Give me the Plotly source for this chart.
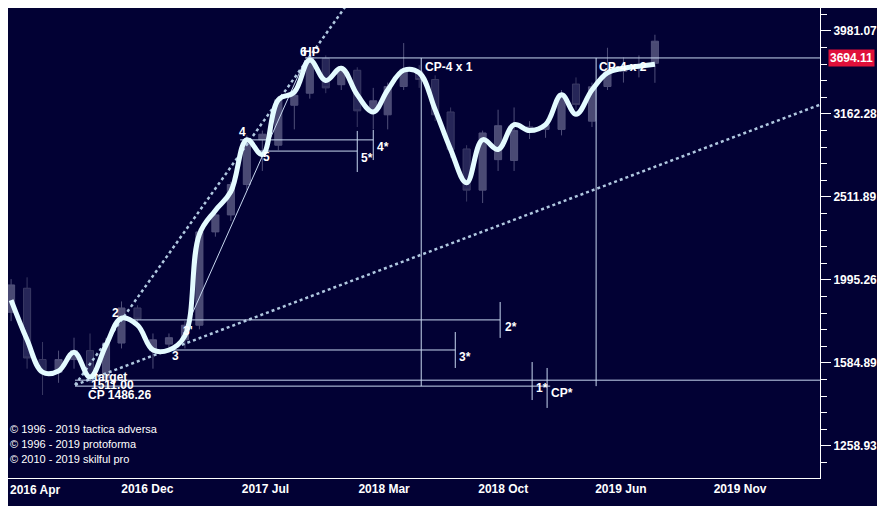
import numpy as np
import pandas as pd
import plotly.graph_objects as go

# monthly candles, Mar 2016 .. Aug 2019
months = pd.date_range('2016-03-01', periods=42, freq='MS') + pd.Timedelta(days=4)
opens = [1824, 1950, 1600, 1545, 1600, 1640, 1520, 1675, 1846, 1640, 1670, 1690,
         1760, 2280, 2390, 2600, 2944, 2900, 3240, 3350, 3690, 3430, 3570, 3180,
         3155, 3413, 3560, 3480, 3180, 2870, 2560, 2786, 2780, 3010, 3030, 3030,
         3436, 3100, 3413, 3560, 3600, 3640]
highs = [2000, 2010, 1680, 1640, 1700, 1720, 1700, 1880, 1860, 1720, 1720, 1780,
         2300, 2420, 2620, 2980, 3020, 3320, 3360, 3720, 3720, 3600, 3600, 3400,
         3450, 3850, 3620, 3520, 3220, 2900, 3020, 3200, 3220, 3100, 3100, 3380,
         3500, 3450, 3800, 3700, 3720, 3940]
lows = [1780, 1560, 1450, 1500, 1560, 1500, 1480, 1650, 1750, 1560, 1640, 1650,
        1740, 2250, 2350, 2560, 2700, 2860, 3030, 3300, 3350, 3380, 3050, 3030,
        3030, 3380, 3400, 3100, 2800, 2480, 2470, 2700, 2700, 2950, 2960, 2980,
        3200, 3050, 3380, 3450, 3500, 3448]
closes = [1968, 1607, 1545, 1600, 1640, 1520, 1675, 1846, 1790, 1690, 1700, 1760,
          2280, 2390, 2600, 2944, 2990, 3290, 3330, 3700, 3400, 3560, 3190, 3280,
          3413, 3580, 3480, 3155, 2866, 2560, 3000, 3061, 3020, 3050, 3070, 3345,
          3246, 3410, 3560, 3600, 3630, 3870]

# smoothed curve
smooth = [1887, 1690, 1545, 1550, 1633, 1524, 1665, 1795, 1760, 1643, 1643, 1710,
          2265, 2420, 2550, 2944, 2825, 3289, 3360, 3673, 3470, 3590, 3335, 3180,
          3380, 3570, 3545, 3200, 2866, 2613, 2944, 2866, 3070, 3020, 3070, 3335,
          3160, 3380, 3545, 3590, 3610, 3630]

hp_level = 3694.11
target_level = 1511.00
cp_level = 1486.26

# fan / trend lines
steep_x = ['2016-07-07', '2017-12-22']
steep_y = [1491, 4337]
shallow_x = ['2016-07-07', '2020-06-20']
shallow_y = [1491, 3245]
thin_x = ['2017-02-05', '2017-09-26']
thin_y = [1737, 3673]

# projections: (start, end, level, tick high, tick low)
projections = [
    ('2016-10-12', '2018-10-09', 1786, 1877, 1699),
    ('2017-01-07', '2018-07-14', 1643, 1727, 1563),
    ('2017-05-23', '2018-02-05', 2943, 3025, 2783),
    ('2017-06-21', '2018-01-05', 2853, 3017, 2692),
]
cp_verticals = ['2018-05-09', '2019-04-13']
star_ticks = [('2018-12-10', 1589, 1430), ('2019-01-08', 1563, 1399)]

labels = [
    ('2', '2016-09-23', 1820, 'center'), ("3'", '2017-02-11', 1732, 'center'),
    ('3', '2017-01-17', 1616, 'center'), ('4', '2017-05-27', 3009, 'center'),
    ('5', '2017-07-14', 2806, 'center'), ('6', '2017-09-22', 3755, 'center'),
    ('HP', '2017-10-08', 3755, 'center'), ('target', '2016-09-13', 1524, 'center'),
    ('1511.00', '2016-09-17', 1489, 'center'), ('CP 1486.26', '2016-10-02', 1452, 'center'),
    ('2*', '2018-10-15', 1750, 'left'), ('3*', '2018-07-18', 1612, 'left'),
    ('4*', '2018-02-09', 2885, 'left'), ('5*', '2018-01-09', 2799, 'left'),
    ('1*', '2018-12-14', 1479, 'left'), ('CP*', '2019-01-12', 1460, 'left'),
    ('CP-4 x 1', '2018-05-13', 3603, 'left'), ('CP-4 x 2', '2019-04-15', 3603, 'left'),
]
credits = ['© 1996 - 2019 tactica adversa', '© 1996 - 2019 protoforma', '© 2010 - 2019 skilful pro']

x_tickvals = ['2016-04-22', '2016-11-24', '2017-07-11', '2018-02-26', '2018-10-15', '2019-05-31', '2020-01-17']
x_ticktext = ['2016 Apr', '2016 Dec', '2017 Jul', '2018 Mar', '2018 Oct', '2019 Jun', '2019 Nov']
y_tickvals = [10 ** e for e in [3.1, 3.2, 3.3, 3.4, 3.5, 3.6]]
y_ticktext = ['<b>%s</b>' % t for t in ['1258.93', '1584.89', '1995.26', '2511.89', '3162.28', '3981.07']]
y_minor = [10 ** e for e in np.arange(3.06, 3.66, 0.02)]

bg = '#020134'
lc = '#c8d8f0'
fnt = 'Liberation Sans'
fig = go.Figure()

fig.add_trace(go.Candlestick(x=months, open=opens, high=highs, low=lows, close=closes,
                             increasing=dict(line=dict(color='#50507a', width=1), fillcolor='#4a4a74'),
                             decreasing=dict(line=dict(color='#3a3a64', width=1), fillcolor='#262658'),
                             whiskerwidth=0, showlegend=False))

def line(xs, ys, dash='solid', width=1, color=lc):
    fig.add_trace(go.Scatter(x=xs, y=ys, mode='lines', showlegend=False, hoverinfo='skip',
                             line=dict(color=color, width=width, dash=dash)))

line(steep_x, steep_y, dash='dot', width=2.5, color='#b0c8e0')
line(shallow_x, shallow_y, dash='dot', width=2.5, color='#b0c8e0')
line(thin_x, thin_y, width=1)
line(['2017-09-26', '2020-06-20'], [hp_level, hp_level])
line(['2016-07-07', '2020-06-20'], [target_level, target_level])
line(['2016-07-07', '2019-01-14'], [cp_level, cp_level])
for xv in cp_verticals:
    line([xv, xv], [hp_level, cp_level])
for s, e, lev, hi, lo in projections:
    line([s, e], [lev, lev])
    line([e, e], [hi, lo])
for xv, hi, lo in star_ticks:
    line([xv, xv], [hi, lo])

fig.add_trace(go.Scatter(x=months, y=smooth, mode='lines', showlegend=False, hoverinfo='skip',
                         line=dict(color='#e4fbff', width=5, shape='spline', smoothing=1.1)))

for txt, xv, yv, anc in labels:
    fig.add_annotation(x=xv, y=np.log10(yv), text='<b>%s</b>' % txt, showarrow=False, xanchor=anc,
                       font=dict(color='white', size=12, family=fnt))
for i, txt in enumerate(credits):
    fig.add_annotation(xref='paper', yref='paper', x=0.0, y=0.087 - i * 0.032, text=txt,
                       showarrow=False, xanchor='left',
                       font=dict(color='white', size=11, family=fnt))
fig.add_annotation(xref='paper', y=np.log10(hp_level), x=1.01, text='<b>3694.11</b>', showarrow=False,
                   xanchor='left', bgcolor='#e0103a', borderpad=1,
                   font=dict(color='white', size=12, family=fnt))
# first date label (plotly drops it at the edge), drawn as annotation
fig.add_annotation(x=x_tickvals[0], yref='paper', y=0, yanchor='top', yshift=-3,
                   text='<b>%s</b>' % x_ticktext[0], showarrow=False,
                   font=dict(color='white', size=12, family=fnt))

fig.update_layout(
    width=877, height=498, margin=dict(l=0, r=65, t=0, b=28),
    paper_bgcolor=bg, plot_bgcolor=bg,
    xaxis=dict(range=['2016-02-28', '2020-06-20'], rangeslider=dict(visible=False),
               tickvals=x_tickvals[1:], ticktext=['<b>%s</b>' % t for t in x_ticktext[1:]],
               showgrid=False, zeroline=False, showline=True, linecolor='white', ticks='',
               tickfont=dict(color='white', size=12, family=fnt)),
    yaxis=dict(type='log', range=[3.0614, 3.6277], side='right', showgrid=False,
               tickvals=y_tickvals, ticktext=y_ticktext, ticks='outside', ticklen=10,
               tickcolor='white', showline=True, linecolor='white',
               minor=dict(tickvals=y_minor, ticks='outside', ticklen=6, tickcolor='white'),
               tickfont=dict(color='white', size=12, family=fnt)),
)

fig.write_html("out.html")
